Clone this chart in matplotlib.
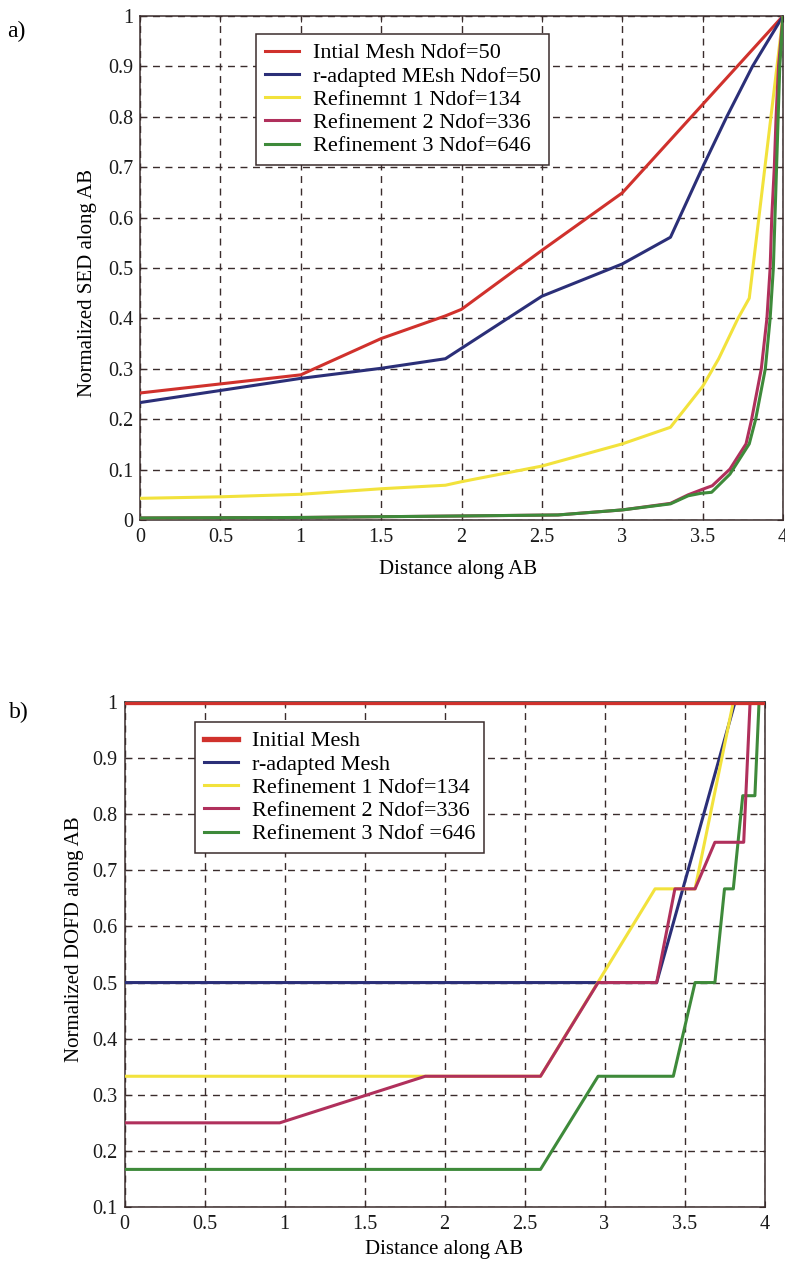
import matplotlib
matplotlib.use("Agg")
import matplotlib.pyplot as plt

# ---------------- data: panel a (Normalized SED) ----------------
x_init_a = [0, 1, 1.5, 1.9, 2, 2.5, 3, 4]
y_init_a = [0.252, 0.288, 0.36, 0.405, 0.418, 0.535, 0.649, 1.0]

x_radapt_a = [0, 1, 1.5, 1.9, 2.5, 3, 3.3, 3.5, 3.65, 3.81, 4]
y_radapt_a = [0.233, 0.281, 0.301, 0.320, 0.444, 0.508, 0.561, 0.70, 0.80, 0.90, 1.0]

x_ref1_a = [0, 0.5, 1, 1.5, 1.9, 2, 2.5, 3, 3.3, 3.5, 3.6, 3.72, 3.79, 4]
y_ref1_a = [0.043, 0.046, 0.051, 0.062, 0.069, 0.076, 0.107, 0.151, 0.184, 0.265, 0.32, 0.40, 0.44, 1.0]

x_ref2_a = [0, 1, 2, 2.6, 3, 3.3, 3.41, 3.5, 3.56, 3.67, 3.77, 3.805, 3.865, 3.90, 3.92, 3.93, 3.946, 3.957, 3.972, 4.0]
y_ref2_a = [0.004, 0.005, 0.008, 0.010, 0.020, 0.033, 0.05, 0.061, 0.068, 0.101, 0.151, 0.2, 0.3, 0.4, 0.5, 0.6, 0.7, 0.8, 0.9, 1.0]

x_ref3_a = [0, 1, 2, 2.6, 3, 3.3, 3.41, 3.49, 3.556, 3.67, 3.79, 3.83, 3.89, 3.92, 3.94, 3.95, 3.96, 3.97, 3.98, 4.0]
y_ref3_a = [0.004, 0.005, 0.008, 0.010, 0.020, 0.032, 0.048, 0.053, 0.055, 0.091, 0.151, 0.2, 0.3, 0.4, 0.5, 0.6, 0.7, 0.8, 0.9, 1.0]

labels_a = ["Intial Mesh Ndof=50", "r-adapted MEsh Ndof=50", "Refinemnt 1 Ndof=134",
            "Refinement 2 Ndof=336", "Refinement 3 Ndof=646"]

# ---------------- data: panel b (Normalized DOFD) ----------------
x_init_b = [0, 4]
y_init_b = [1.0, 1.0]

x_radapt_b = [0, 3.326, 3.816, 4]
y_radapt_b = [0.5, 0.5, 1.0, 1.0]

x_ref1_b = [0, 1.88, 2.6, 3.316, 3.566, 3.805, 4]
y_ref1_b = [0.333, 0.333, 0.333, 0.667, 0.667, 1.0, 1.0]

x_ref2_b = [0, 0.97, 1.88, 2.6, 2.96, 3.326, 3.44, 3.566, 3.69, 3.87, 3.91, 4]
y_ref2_b = [0.25, 0.25, 0.333, 0.333, 0.5, 0.5, 0.667, 0.667, 0.75, 0.75, 1.0, 1.0]

x_ref3_b = [0, 2.6, 2.96, 3.43, 3.566, 3.69, 3.75, 3.805, 3.864, 3.94, 3.966, 4]
y_ref3_b = [0.167, 0.167, 0.333, 0.333, 0.5, 0.5, 0.667, 0.667, 0.833, 0.833, 1.0, 1.0]

labels_b = ["Initial Mesh", "r-adapted Mesh", "Refinement 1 Ndof=134",
            "Refinement 2 Ndof=336", "Refinement 3 Ndof =646"]

x_ticks = [0, 0.5, 1, 1.5, 2, 2.5, 3, 3.5, 4]
x_ticklabels = ["0", "0.5", "1", "1.5", "2", "2.5", "3", "3.5", "4"]
y_ticks_a = [0, 0.1, 0.2, 0.3, 0.4, 0.5, 0.6, 0.7, 0.8, 0.9, 1]
y_ticklabels_a = ["0", "0.1", "0.2", "0.3", "0.4", "0.5", "0.6", "0.7", "0.8", "0.9", "1"]
y_ticks_b = [0.1, 0.2, 0.3, 0.4, 0.5, 0.6, 0.7, 0.8, 0.9, 1]
y_ticklabels_b = ["0.1", "0.2", "0.3", "0.4", "0.5", "0.6", "0.7", "0.8", "0.9", "1"]

# ---------------- style ----------------
C_RED = "#d0312c"
C_BLUE = "#2b2f78"
C_YEL = "#f2e23c"
C_MAG = "#b0305c"
C_GRN = "#3e8a3a"
C_AX = "#3a2c2c"

plt.rcParams["font.family"] = ["Liberation Serif", "DejaVu Serif"]

W, H = 785, 1263
fig = plt.figure(figsize=(W / 100, H / 100), dpi=100)
fig.patch.set_facecolor("white")

FS_TICK = 14.5
FS_LAB = 15
FS_LEG = 16


def style_axes(ax, yticks, yticklabels, ylim):
    ax.set_xlim(0, 4)
    ax.set_ylim(*ylim)
    ax.set_xticks(x_ticks)
    ax.set_xticklabels(x_ticklabels, fontsize=FS_TICK, color="#1a1a1a")
    ax.set_yticks(yticks)
    ax.set_yticklabels(yticklabels, fontsize=FS_TICK, color="#1a1a1a")
    ax.tick_params(direction="in", length=4, width=0.8, color=C_AX,
                   top=True, right=True)
    ax.tick_params(axis="x", pad=6)
    ax.tick_params(axis="y", pad=5)
    ax.grid(True, color=C_AX, linestyle=(0, (5, 4)), linewidth=1.0)
    ax.set_axisbelow("line")
    for s in ax.spines.values():
        s.set_color(C_AX)
        s.set_linewidth(1.1)
        s.set_zorder(2.5)


def style_legend(leg):
    fr = leg.get_frame()
    fr.set_edgecolor(C_AX)
    fr.set_linewidth(1.1)
    fr.set_alpha(1)
    leg.set_zorder(10)


leg_kw = dict(loc="upper left", borderaxespad=0, fontsize=FS_LEG, frameon=True,
              fancybox=False, shadow=False, handlelength=1.55, handletextpad=0.6,
              labelspacing=0.12, borderpad=0.4)

lw = 2.2

# ---------------- panel a ----------------
axa = fig.add_axes([140 / W, 1 - 520 / H, 643 / W, 504 / H])
axa.plot(x_init_a, y_init_a, color=C_RED, lw=lw, label=labels_a[0], zorder=3)
axa.plot(x_radapt_a, y_radapt_a, color=C_BLUE, lw=lw, label=labels_a[1], zorder=3)
axa.plot(x_ref1_a, y_ref1_a, color=C_YEL, lw=lw, label=labels_a[2], zorder=3)
axa.plot(x_ref2_a, y_ref2_a, color=C_MAG, lw=lw, label=labels_a[3], zorder=3)
axa.plot(x_ref3_a, y_ref3_a, color=C_GRN, lw=lw, label=labels_a[4], zorder=3)
style_axes(axa, y_ticks_a, y_ticklabels_a, (0, 1))
axa.set_xlabel("Distance along AB", fontsize=FS_LAB)
axa.xaxis.set_label_coords(0.495, -0.080)
axa.set_ylabel("Normalized SED along AB", fontsize=FS_LAB)
axa.yaxis.set_label_coords(-0.067, 0.47)
lega = axa.legend(bbox_to_anchor=(256 / W, 1 - 34 / H),
                  bbox_transform=fig.transFigure, **leg_kw)
style_legend(lega)
fig.text(7 / W, 1 - 31 / H, "a)", fontsize=17, va="center", ha="left")

# ---------------- panel b ----------------
axb = fig.add_axes([124.5 / W, 1 - 1207 / H, 640 / W, 505 / H])
axb.plot(x_init_b, y_init_b, color=C_RED, lw=3.8, label=labels_b[0], zorder=6)
axb.plot(x_radapt_b, y_radapt_b, color=C_BLUE, lw=lw, label=labels_b[1], zorder=3)
axb.plot(x_ref1_b, y_ref1_b, color=C_YEL, lw=lw, label=labels_b[2], zorder=3)
axb.plot(x_ref2_b, y_ref2_b, color=C_MAG, lw=lw, label=labels_b[3], zorder=4)
axb.plot(x_ref3_b, y_ref3_b, color=C_GRN, lw=lw, label=labels_b[4], zorder=3)
style_axes(axb, y_ticks_b, y_ticklabels_b, (0.1, 1))
axb.set_xlabel("Distance along AB", fontsize=FS_LAB)
axb.xaxis.set_label_coords(0.5, -0.066)
axb.set_ylabel("Normalized DOFD along AB", fontsize=FS_LAB)
axb.yaxis.set_label_coords(-0.063, 0.53)
legb = axb.legend(bbox_to_anchor=(195 / W, 1 - 722 / H),
                  bbox_transform=fig.transFigure, **leg_kw)
style_legend(legb)
fig.text(9 / W, 1 - 712 / H, "b)", fontsize=17, va="center", ha="left")

fig.savefig("out.png", dpi=100, facecolor="white")
